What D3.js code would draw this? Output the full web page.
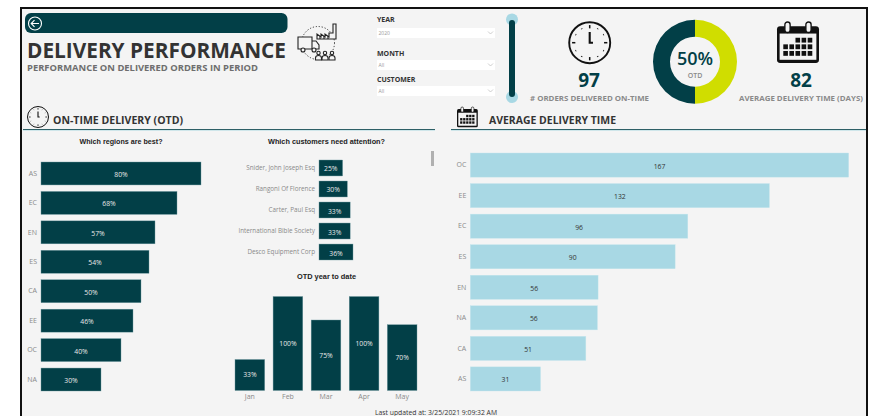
<!DOCTYPE html>
<html><head><meta charset="utf-8">
<script src="https://cdn.jsdelivr.net/npm/d3@7"></script>
<style>
html,body{margin:0;padding:0;background:#fff;overflow:hidden}
svg{display:block}
text{font-family:"Open Sans",sans-serif}
.axis text{font-size:7px;fill:#8a8a8a;font-family:"Open Sans",sans-serif}
.axis.small text{font-size:6.3px}
.axis .domain{display:none}
.axis line{display:none}
</style></head><body>
<script>
const regionCats=["AS","EC","EN","ES","CA","EE","OC","NA"];
const regionOtd=[80,68,57,54,50,46,40,30];
const customerCats=["Snider, John Joseph Esq","Rangoni Of Florence","Carter, Paul Esq","International Bible Society","Desco Equipment Corp"];
const customerOtd=[25,30,33,33,36];
const monthCats=["Jan","Feb","Mar","Apr","May"];
const monthOtd=[33,100,75,100,70];
const timeCats=["OC","EE","EC","ES","EN","NA","CA","AS"];
const timeDays=[167,132,96,90.4,56.4,56.1,51,31];
const otdSplit=[50,50];
const slicerNames=["YEAR","MONTH","CUSTOMER"];
const slicerValues=["2020","All","All"];

const DARK="#023f47",LIGHT="#a8d8e4",LIME="#d0dd00",INK="#333333",GREY="#6e6e6e";
const svg=d3.select("body").append("svg").attr("width",874).attr("height",416);
svg.append("rect").attr("x",21).attr("y",8).attr("width",846).attr("height",410).attr("fill","#f4f4f4").attr("stroke","#111").attr("stroke-width",2);

function label(x,y,t,size,weight,fill,anchor){
  return svg.append("text").attr("x",x).attr("y",y).text(t).attr("font-size",size).attr("font-weight",weight).attr("fill",fill).attr("text-anchor",anchor||"start");
}
function clock(cx,cy,r,sw){
  const g=svg.append("g").attr("transform",`translate(${cx},${cy})`);
  g.append("circle").attr("r",r).attr("fill","none").attr("stroke","#111").attr("stroke-width",sw);
  d3.range(12).forEach(i=>{
    const a=i*Math.PI/6,big=i%3===0,r0=r*(big?.7:.76),r1=r*(big?.86:.8);
    g.append("line").attr("x1",r0*Math.sin(a)).attr("y1",-r0*Math.cos(a)).attr("x2",r1*Math.sin(a)).attr("y2",-r1*Math.cos(a)).attr("stroke","#111").attr("stroke-width",sw*.8);
  });
  g.append("path").attr("d",`M0,${-r*.52}V0H${r*.16}`).attr("fill","none").attr("stroke","#111").attr("stroke-width",sw*1.1);
}
function calendar(x,y,s){
  const g=svg.append("g").attr("transform",`translate(${x},${y}) scale(${s})`);
  g.append("rect").attr("x",0).attr("y",4).attr("width",40).attr("height",35).attr("rx",3).attr("fill","#111");
  g.append("rect").attr("x",2.5).attr("y",11).attr("width",35).attr("height",25).attr("fill","#f4f4f4");
  [10,30].forEach(cx=>{
    g.append("rect").attr("x",cx-2.5).attr("y",0).attr("width",5).attr("height",10).attr("rx",2.5).attr("fill","#f4f4f4").attr("stroke","#111").attr("stroke-width",1.3);
  });
  [[2,3,4],[0,1,2,3,4],[0,1,2,3,4]].forEach((row,j)=>row.forEach(i=>{
    g.append("rect").attr("x",6+i*5.8).attr("y",15+j*6.3).attr("width",4.4).attr("height",4.6).attr("fill","#111");
  }));
}
/* header */
svg.append("rect").attr("x",25).attr("y",13).attr("width",262.5).attr("height",20).attr("rx",6).attr("fill",DARK);
svg.append("circle").attr("cx",35).attr("cy",23.5).attr("r",6.5).attr("fill","none").attr("stroke","#fff").attr("stroke-width",1.1);
svg.append("path").attr("d","M39,23.5H31.5M34.5,20.2L31.2,23.5L34.5,26.8").attr("fill","none").attr("stroke","#fff").attr("stroke-width",1.1);
label(27,57.5,"DELIVERY PERFORMANCE",21,700,INK).attr("textLength",259).attr("lengthAdjust","spacingAndGlyphs");
label(27,70.7,"PERFORMANCE ON DELIVERED ORDERS IN PERIOD",8.6,700,GREY).attr("textLength",231).attr("lengthAdjust","spacingAndGlyphs");

/* truck / factory icon */
const ic=svg.append("g").attr("fill","none").attr("stroke","#222").attr("stroke-width",1.1);
ic.append("circle").attr("cx",318).attr("cy",43).attr("r",16.5).attr("stroke-dasharray","1.2 1.8").attr("stroke-width",.9);
ic.append("path").attr("fill","#f4f4f4").attr("d","M298,37H312V49H298ZM312,41H316L319,45V49H312Z");
ic.append("circle").attr("cx",303).attr("cy",50).attr("r",2).attr("fill","#f4f4f4");
ic.append("circle").attr("cx",314).attr("cy",50).attr("r",2).attr("fill","#f4f4f4");
ic.append("path").attr("fill","#f4f4f4").attr("d","M317,39V34L321,37V34L325,37V34L329,37V33H333V24H336V39Z");
ic.append("path").attr("d","M320,39V36M324,39V36M328,39V36");
[318.5,325,332].forEach(cx=>{
  ic.append("circle").attr("cx",cx).attr("cy",53).attr("r",1.7).attr("fill","#f4f4f4");
  ic.append("path").attr("fill","#f4f4f4").attr("d",`M${cx-3},60V58Q${cx-3},55.5 ${cx},55.5Q${cx+3},55.5 ${cx+3},58V60Z`);
});

/* slicers */
const slicerTextY=[22,55.5,81.5], slicerBoxY=[28,60,86];
slicerNames.forEach((name,i)=>{
  const by=slicerBoxY[i];
  label(377,slicerTextY[i],name,7,700,INK);
  svg.append("rect").attr("x",377).attr("y",by).attr("width",118).attr("height",10).attr("fill","#fff");
  label(378.5,by+7,slicerValues[i],5,400,"#999");
  svg.append("path").attr("d",`M488,${by+3.5}L490.5,${by+6}L493,${by+3.5}`).attr("fill","none").attr("stroke","#bbb").attr("stroke-width",.7);
});
/* separator */
svg.append("circle").attr("cx",512).attr("cy",19.5).attr("r",6).attr("fill",LIGHT);
svg.append("circle").attr("cx",512).attr("cy",97).attr("r",6).attr("fill",LIGHT);
svg.append("rect").attr("x",509).attr("y",20).attr("width",6).attr("height",77).attr("rx",3).attr("fill",DARK);

/* KPI */
clock(589.7,42.7,20.5,1.9);
label(589,87,"97",19,700,DARK,"middle");
label(589.5,100.5,"# ORDERS DELIVERED ON-TIME",7.4,700,"#8a8a8a","middle").attr("textLength",119).attr("lengthAdjust","spacingAndGlyphs");
const pie=d3.pie().sort(null)(otdSplit);
const arc=d3.arc().innerRadius(25).outerRadius(42);
svg.append("g").attr("transform","translate(695,61.7)").selectAll("path").data(pie).join("path").attr("d",arc).attr("fill",(d,i)=>i===0?LIME:DARK);
label(695,64.5,"50%",18,600,DARK,"middle");
label(695,77.5,"OTD",7,600,"#8a8a8a","middle");
calendar(777,22,1.05);
label(801,87,"82",19,700,DARK,"middle");
label(801,100.5,"AVERAGE DELIVERY TIME (DAYS)",7.4,700,"#8a8a8a","middle").attr("textLength",124).attr("lengthAdjust","spacingAndGlyphs");

/* section headers */
clock(38,117,10.5,1);
label(53,124,"ON-TIME DELIVERY (OTD)",11,700,INK).attr("textLength",130).attr("lengthAdjust","spacingAndGlyphs");
calendar(457,107,.52);
label(489,124,"AVERAGE DELIVERY TIME",11,700,INK).attr("textLength",127).attr("lengthAdjust","spacingAndGlyphs");
[[23,435],[451,866]].forEach(s=>{
  svg.append("rect").attr("x",s[0]).attr("y",129).attr("width",s[1]-s[0]).attr("height",1).attr("fill","#2d5f66");
  svg.append("rect").attr("x",s[0]).attr("y",130).attr("width",s[1]-s[0]).attr("height",1).attr("fill","#cfe6ea");
});

/* chart titles */
function title(cx,y,t,len){
  label(cx,y,t,8,700,"#222","middle").style("font-family","'Liberation Sans',sans-serif").attr("textLength",len).attr("lengthAdjust","spacingAndGlyphs");
}
title(121,144,"Which regions are best?",83);
title(326.5,144,"Which customers need attention?",117);
title(326.5,278.5,"OTD year to date",59);

/* horizontal bar panels */
function hbars(cats,vals,xr,dom,yr,pad,fill,txt,fmt,edge,cls){
  const x=d3.scaleLinear().domain(dom).range(xr);
  const y=d3.scaleBand().domain(cats).range(yr).paddingInner(pad).paddingOuter(0);
  const rows=cats.map((c,i)=>({c,v:vals[i]}));
  const g=svg.append("g");
  g.selectAll("rect").data(rows).join("rect")
    .attr("x",x(0)).attr("y",d=>y(d.c)).attr("width",d=>x(d.v)-x(0)).attr("height",y.bandwidth())
    .attr("fill",fill).attr("stroke",edge).attr("stroke-width",.4);
  g.selectAll("text").data(rows).join("text")
    .attr("x",d=>(x(d.v)+x(0))/2).attr("y",d=>y(d.c)+y.bandwidth()/2+3.5)
    .attr("text-anchor","middle").attr("font-size",6.8).attr("fill",txt).text(d=>fmt(d.v));
  svg.append("g").attr("class",cls).attr("transform",`translate(${x(0)},0)`)
    .call(d3.axisLeft(y).tickSize(0).tickPadding(4));
}
const pct=v=>v+"%", num=v=>d3.format(".0f")(v);
hbars(regionCats,regionOtd,[41,201],[0,80],[162,391],.22,DARK,"#e8e8e8",pct,"#6f9aa1","axis");
hbars(customerCats,customerOtd,[319,353],[0,36],[160,260],.24,DARK,"#e8e8e8",pct,"#6f9aa1","axis small");
hbars(timeCats,timeDays,[470.3,848.7],[0,167],[153,391],.21,LIGHT,"#333",num,"#c6e6ee","axis");

/* scrollbar */
svg.append("rect").attr("x",431).attr("y",151).attr("width",3).attr("height",15).attr("fill","#b0b0b0");

/* column chart */
const cx=d3.scaleBand().domain(monthCats).range([235,417]).paddingInner(.22).paddingOuter(0);
const cy=d3.scaleLinear().domain([0,100]).range([390.5,296.5]);
const rows=monthCats.map((m,i)=>({m,v:monthOtd[i]}));
const cg=svg.append("g");
cg.selectAll("rect").data(rows).join("rect")
  .attr("x",d=>cx(d.m)).attr("y",d=>cy(d.v)).attr("width",cx.bandwidth()).attr("height",d=>cy(0)-cy(d.v))
  .attr("fill",DARK).attr("stroke","#6f9aa1").attr("stroke-width",.4);
cg.selectAll("text").data(rows).join("text")
  .attr("x",d=>cx(d.m)+cx.bandwidth()/2).attr("y",d=>(cy(d.v)+cy(0))/2+2.5)
  .attr("text-anchor","middle").attr("font-size",6.8).attr("fill","#e8e8e8").text(d=>pct(d.v));
svg.append("g").attr("class","axis").attr("transform","translate(0,390.5)")
  .call(d3.axisBottom(cx).tickSize(0).tickPadding(4));

label(436,414.5,"Last updated at: 3/25/2021 9:09:32 AM",7,400,INK,"middle").attr("textLength",122).attr("lengthAdjust","spacingAndGlyphs");
</script>
</body></html>
